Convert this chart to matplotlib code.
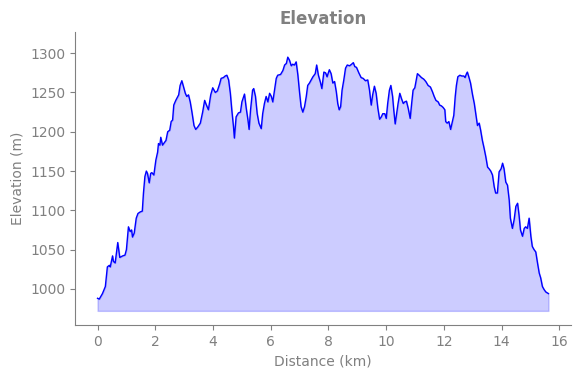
import matplotlib
matplotlib.use("Agg")
import matplotlib.pyplot as plt

distance_km = [
    0.00, 0.06, 0.17, 0.27, 0.34, 0.41, 0.44, 0.52, 0.55, 0.61, 0.70, 0.77, 0.87, 0.95,
    1.00, 1.07, 1.13, 1.18, 1.21, 1.27, 1.34, 1.40, 1.48, 1.55, 1.59, 1.64, 1.69, 1.73,
    1.79, 1.84, 1.88, 1.95, 2.02, 2.08, 2.11, 2.16, 2.19, 2.25, 2.31, 2.37, 2.43, 2.50,
    2.55, 2.60, 2.64, 2.71, 2.81, 2.86, 2.92, 2.98, 3.04, 3.09, 3.15, 3.21, 3.27, 3.34,
    3.40, 3.47, 3.56, 3.64, 3.71, 3.76, 3.84, 3.92, 3.99, 4.08, 4.15, 4.23, 4.28, 4.36,
    4.42, 4.48, 4.54, 4.60, 4.65, 4.71, 4.74, 4.80, 4.88, 4.95, 5.00, 5.09, 5.15, 5.21,
    5.25, 5.30, 5.37, 5.41, 5.47, 5.53, 5.59, 5.67, 5.72, 5.78, 5.84, 5.90, 5.96, 6.02,
    6.07, 6.13, 6.19, 6.24, 6.34, 6.42, 6.48, 6.54, 6.59, 6.65, 6.71, 6.76, 6.82, 6.88,
    6.94, 7.00, 7.05, 7.11, 7.17, 7.23, 7.28, 7.34, 7.40, 7.46, 7.54, 7.59, 7.65, 7.72,
    7.77, 7.84, 7.90, 7.95, 8.03, 8.09, 8.15, 8.21, 8.27, 8.32, 8.37, 8.42, 8.47, 8.53,
    8.59, 8.65, 8.73, 8.80, 8.86, 8.91, 8.97, 9.05, 9.13, 9.20, 9.28, 9.36, 9.42, 9.48,
    9.53, 9.59, 9.65, 9.71, 9.77, 9.83, 9.88, 9.95, 10.00, 10.05, 10.11, 10.16, 10.22,
    10.26, 10.31, 10.38, 10.41, 10.47, 10.53, 10.59, 10.64, 10.70, 10.76, 10.83, 10.88,
    10.93, 10.99, 11.05, 11.08, 11.14, 11.22, 11.30, 11.37, 11.45, 11.53, 11.60, 11.66,
    11.72, 11.80, 11.85, 11.91, 11.97, 12.03, 12.06, 12.11, 12.17, 12.23, 12.28, 12.34,
    12.39, 12.43, 12.48, 12.55, 12.62, 12.69, 12.73, 12.78, 12.81, 12.86, 12.92, 12.99,
    13.05, 13.10, 13.16, 13.22, 13.27, 13.33, 13.39, 13.45, 13.51, 13.56, 13.62, 13.68,
    13.74, 13.79, 13.85, 13.91, 13.98, 14.03, 14.08, 14.14, 14.20, 14.26, 14.30, 14.37,
    14.43, 14.49, 14.55, 14.60, 14.65, 14.72, 14.78, 14.83, 14.89, 14.95, 15.01, 15.06,
    15.12, 15.18, 15.24, 15.30, 15.35, 15.41, 15.47, 15.53, 15.62,
]

elevation_m = [
    988, 987, 994, 1003, 1028, 1030, 1028, 1042, 1035, 1033, 1059, 1040, 1042, 1043,
    1050, 1079, 1073, 1075, 1066, 1071, 1090, 1096, 1098, 1099, 1122, 1143, 1150, 1147,
    1135, 1147, 1148, 1145, 1164, 1174, 1185, 1183, 1193, 1183, 1186, 1189, 1200, 1202,
    1213, 1215, 1234, 1240, 1247, 1259, 1265, 1257, 1249, 1245, 1247, 1238, 1225, 1208,
    1203, 1206, 1211, 1225, 1240, 1235, 1228, 1247, 1256, 1250, 1252, 1261, 1268, 1269,
    1271, 1272, 1266, 1249, 1228, 1206, 1192, 1219, 1224, 1225, 1238, 1248, 1230, 1215,
    1203, 1228, 1253, 1255, 1245, 1223, 1211, 1204, 1223, 1236, 1245, 1238, 1249, 1245,
    1238, 1253, 1268, 1272, 1273, 1278, 1285, 1287, 1295, 1291, 1284, 1286, 1285, 1289,
    1272, 1249, 1232, 1225, 1232, 1245, 1259, 1262, 1266, 1270, 1274, 1285, 1272, 1263,
    1255, 1276, 1275, 1270, 1279, 1274, 1262, 1264, 1251, 1236, 1228, 1232, 1253, 1266,
    1281, 1285, 1284, 1286, 1288, 1283, 1282, 1275, 1269, 1268, 1265, 1266, 1253, 1234,
    1247, 1258, 1249, 1230, 1216, 1219, 1223, 1223, 1217, 1236, 1253, 1259, 1245,
    1228, 1210, 1228, 1236, 1249, 1242, 1236, 1238, 1239, 1230, 1217, 1236,
    1253, 1256, 1268, 1274, 1272, 1269, 1267, 1264, 1259, 1257, 1251, 1245,
    1240, 1238, 1234, 1233, 1231, 1228, 1213, 1211, 1213, 1203, 1211, 1221,
    1245, 1259, 1270, 1272, 1271, 1271, 1269, 1274, 1276, 1270, 1262, 1247,
    1236, 1223, 1208, 1211, 1202, 1189, 1179, 1168, 1155, 1153, 1150, 1145,
    1130, 1122, 1122, 1149, 1153, 1160, 1153, 1136, 1132, 1113, 1090, 1077,
    1088, 1105, 1109, 1094, 1075, 1067, 1077, 1079, 1077, 1090, 1067, 1054,
    1050, 1047, 1033, 1020, 1014, 1003, 999, 996, 994,
]

fill_base_m = 972
y_limits = (954, 1327)
x_ticks = [0, 2, 4, 6, 8, 10, 12, 14, 16]

grey = "#808080"

fig = plt.figure(figsize=(5.8, 3.78), dpi=100)
ax = fig.add_axes([0.1293, 0.1402, 0.8552, 0.7751])

ax.fill_between(distance_km, elevation_m, fill_base_m, color="blue", alpha=0.2)
ax.plot(distance_km, elevation_m, color="blue", linewidth=1.0)

ax.set_ylim(*y_limits)
ax.set_xticks(x_ticks)
ax.set_title("Elevation", color=grey, fontsize=12, fontweight="bold")
ax.set_xlabel("Distance (km)", color=grey, fontsize=10)
ax.set_ylabel("Elevation (m)", color=grey, fontsize=10)

for side in ("top", "right"):
    ax.spines[side].set_visible(False)
for side in ("left", "bottom"):
    ax.spines[side].set_color(grey)
ax.tick_params(colors=grey, labelcolor=grey, labelsize=10)

fig.savefig("out.png", dpi=100)
